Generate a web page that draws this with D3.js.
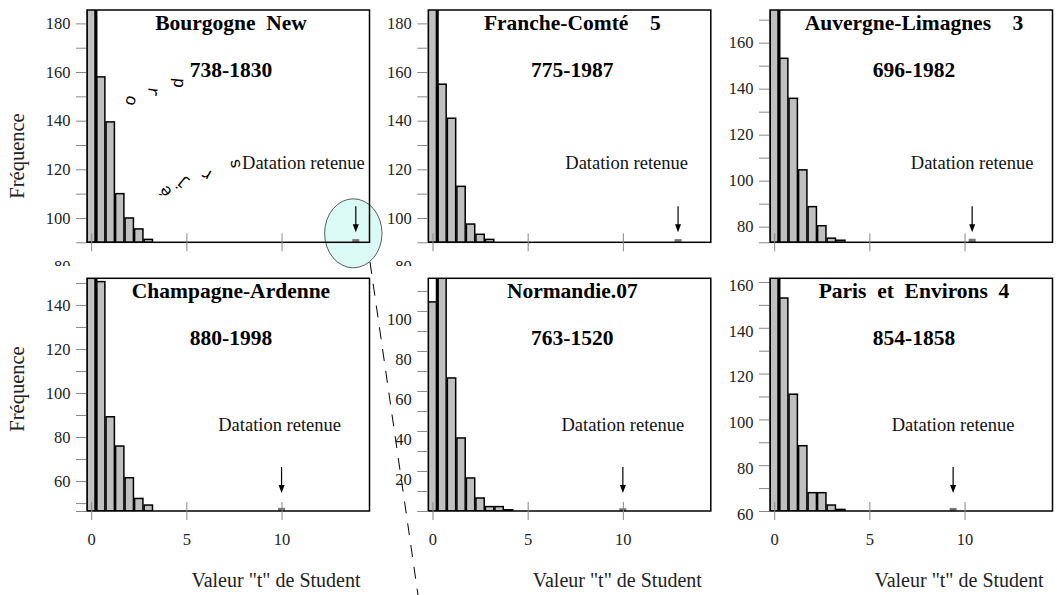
<!DOCTYPE html>
<html>
<head>
<meta charset="utf-8">
<script src="https://cdn.jsdelivr.net/npm/d3@7"></script>
<style>
    body { margin: 0; background: #fff; }
    text { font-family: 'Liberation Serif', 'Times New Roman', serif; }
</style>
</head>
<body>
<svg id="chart" width="1057" height="595"></svg>
<script>
// one histogram per region
var regions = ['Bourgogne  New', 'Franche-Comté    5', 'Auvergne-Limagnes    3',
    'Champagne-Ardenne', 'Normandie.07', 'Paris  et  Environs  4']
var periods = ['738-1830', '775-1987', '696-1982', '880-1998', '763-1520', '854-1858']

// bins of width 0.5 on the t of Student
var binCenters = [0, 0.5, 1, 1.5, 2, 2.5, 3, 3.5, 4]

var freqBourgogne = [200, 158, 139.5, 110, 100, 95.5, 91.2]
var freqFrancheComte = [200, 155, 141, 113, 97.5, 93.3, 91.2]
var freqAuvergne = [200, 153.2, 135.8, 104.7, 88.7, 80.4, 75, 74.1]
var freqChampagne = [200, 150.6, 89.2, 75.9, 61.5, 52.1, 49.1]
var freqNormandie = [104.5, 130, 66.5, 36.5, 16.5, 6.5, 2.2, 2.2, 0.6]
var freqParis = [200, 153, 111, 88.5, 68, 68, 62.6, 60.7]
var frequencies = [freqBourgogne, freqFrancheComte, freqAuvergne, freqChampagne, freqNormandie, freqParis]

// "Datation retenue": t value of the retained dating and its bar
var retainedT = [13.9, 12.9, 10.4, 10, 10, 9.4]
var retainedFreq = [90.9, 90.9, 74.3, 47.4, 0.9, 60.9]
var noteT = [11.15, 10.2, 10.4, 9.9, 10, 9.4]

// the y axes of the original all start somewhere different
var yDomains = [[90, 185.5], [90, 185.5], [73.2, 174.2], [46.4, 152.1], [0, 116.3], [60, 161.6]]
var yLabels = [
    [80, 100, 120, 140, 160, 180],
    [80, 100, 120, 140, 160, 180],
    [80, 100, 120, 140, 160],
    [60, 80, 100, 120, 140],
    [20, 40, 60, 80, 100],
    [60, 80, 100, 120, 140, 160]
]
var labelShift = [0, 0, 0, 0, 8, 3]
var xTicks = [0, 5, 10]
var xDomain = [-0.22, 14.62]

var colLeft = [87, 428.3, 770]
var rowTop = [10, 278.3]
var rowBottom = [242.3, 511]
var panelWidth = 282.5
var serif = "'Liberation Serif', 'Times New Roman', serif"

var svg = d3.select('#chart')

// the highlighted corner and its dashed pointer
svg.append('ellipse')
    .attr('cx', 353.3)
    .attr('cy', 233.3)
    .attr('rx', 28.7)
    .attr('ry', 34.5)
    .attr('fill', '#dcfaf5')
    .attr('stroke', '#333')
    .attr('stroke-width', 0.8)

regions.forEach(function(name, i) {
    var col = i % 3
    var row = Math.floor(i / 3)
    var left = colLeft[col]
    var right = left + panelWidth
    var top = rowTop[row]
    var bottom = rowBottom[row]

    var x = d3.scaleLinear()
        .domain(xDomain)
        .range([left, right])

    var y = d3.scaleLinear()
        .domain(yDomains[i])
        .range([bottom, top])

    var g = svg.append('g')
        .attr('class', 'panel')

    g.append('clipPath')
        .attr('id', 'clip' + i)
        .append('rect')
        .attr('x', left)
        .attr('y', top)
        .attr('width', panelWidth)
        .attr('height', bottom - top)

    var plot = g.append('g')
        .attr('clip-path', 'url(#clip' + i + ')')

    var bins = frequencies[i].map(function(v, k) {
        return { t: binCenters[k], v: v }
    })

    plot.selectAll('rect.bar')
        .data(bins)
        .enter().append('rect')
        .attr('class', 'bar')
        .attr('x', function(d) { return x(d.t - 0.25) + 0.6 })
        .attr('width', function(d) { return x(d.t + 0.25) - x(d.t - 0.25) - 1.2 })
        .attr('y', function(d) { return y(d.v) })
        .attr('height', function(d) { return bottom - y(d.v) })
        .attr('fill', '#c0c0c0')
        .attr('stroke', '#000')
        .attr('stroke-width', 1.5)

    // dark edge between the first two bins
    plot.append('line')
        .attr('x1', x(0.25))
        .attr('x2', x(0.25))
        .attr('y1', top)
        .attr('y2', bottom)
        .attr('stroke', '#000')
        .attr('stroke-width', 3)

    // retained dating
    plot.append('rect')
        .attr('x', x(retainedT[i]) - 3.5)
        .attr('width', 7)
        .attr('y', y(retainedFreq[i]) - 1)
        .attr('height', bottom - y(retainedFreq[i]) + 1)
        .attr('fill', '#777')

    var tip = row === 0 ? bottom - 10 : bottom - 18
    var ax = x(retainedT[i])
    g.append('line')
        .attr('x1', ax)
        .attr('x2', ax)
        .attr('y1', tip - 26)
        .attr('y2', tip - 6)
        .attr('stroke', '#000')
        .attr('stroke-width', 1.2)
    g.append('path')
        .attr('d', 'M' + (ax - 3) + ',' + (tip - 8) + 'L' + (ax + 3) + ',' + (tip - 8) + 'L' + ax + ',' + tip + 'Z')
        .attr('fill', '#000')

    g.append('text')
        .attr('x', x(noteT[i]))
        .attr('y', top + (row === 0 ? 159 : 153))
        .attr('text-anchor', 'middle')
        .attr('font-size', 18.5)
        .attr('fill', '#111')
        .text('Datation retenue')

    // frame
    g.append('rect')
        .attr('x', left)
        .attr('y', top)
        .attr('width', panelWidth)
        .attr('height', bottom - top)
        .attr('fill', 'none')
        .attr('stroke', '#000')
        .attr('stroke-width', 1.5)

    // y axis: tick marks every 10, labels every 20
    var dom = yDomains[i]
    var minor = [dom[0]].concat(d3.range(Math.ceil(dom[0] / 10) * 10, dom[1], 10))
    minor = minor.filter(function(v, k) { return minor.indexOf(v) === k })

    g.append('g')
        .attr('transform', 'translate(' + (left - 1) + ',0)')
        .call(d3.axisLeft(y).tickValues(minor).tickSize(10).tickFormat(''))
        .call(function(a) {
            a.select('.domain').remove()
            a.selectAll('line').attr('stroke', '#888')
        })

    var labels = g.append('g')
        .attr('transform', 'translate(' + left + ',0)')
        .call(d3.axisLeft(y).tickValues(yLabels[i]).tickSize(0).tickPadding(16.5).tickFormat(d3.format('d')))
        .attr('font-family', serif)
        .attr('font-size', 16.5)
        .call(function(a) {
            a.select('.domain').remove()
            a.selectAll('text')
                .style('font-family', serif)
                .attr('fill', '#222')
                .attr('transform', 'translate(0,' + labelShift[i] + ')')
        })
    if (row === 0) {
        // the lowest label is cut by the lower row in the original
        g.append('clipPath')
            .attr('id', 'lab' + i)
            .append('rect')
            .attr('x', -70)
            .attr('y', 0)
            .attr('width', 70)
            .attr('height', 266)
        labels.attr('clip-path', 'url(#lab' + i + ')')
    }

    // x axis: ticks crossing the base line
    var xAxis = d3.axisBottom(x)
        .tickValues(xTicks)
        .tickSizeInner(18)
        .tickSizeOuter(0)
        .tickPadding(13.3)
    if (row === 0) xAxis.tickFormat('')

    g.append('g')
        .attr('transform', 'translate(0,' + (bottom - 9) + ')')
        .call(xAxis)
        .attr('font-family', serif)
        .attr('font-size', 16.5)
        .call(function(a) {
            a.select('.domain').remove()
            a.selectAll('line').attr('stroke', '#888')
            a.selectAll('text').style('font-family', serif).attr('fill', '#222')
        })

    g.append('text')
        .attr('x', left + 144)
        .attr('y', top + 20)
        .attr('text-anchor', 'middle')
        .attr('font-size', 21.5)
        .attr('font-weight', 'bold')
        .style('white-space', 'pre')
        .text(name)

    g.append('text')
        .attr('x', left + 144)
        .attr('y', top + 66.5)
        .attr('text-anchor', 'middle')
        .attr('font-size', 21.5)
        .attr('font-weight', 'bold')
        .text(periods[i])

    if (col === 0) {
        g.append('text')
            .attr('transform', 'translate(24,' + (row === 0 ? 156 : 389) + ') rotate(-90)')
            .attr('text-anchor', 'middle')
            .attr('font-size', 20.5)
            .attr('fill', '#222')
            .text('Fréquence')
    }
    if (row === 1) {
        g.append('text')
            .attr('x', left + 189)
            .attr('y', 587)
            .attr('text-anchor', 'middle')
            .attr('font-size', 20)
            .attr('fill', '#222')
            .text('Valeur "t" de Student')
    }
})

// stray letters laid on an arc in the first panel
var arcLetters = [
    { c: 'o', x: 132, y: 101, r: 110 },
    { c: 'r', x: 154, y: 92, r: 100 },
    { c: 'p', x: 180, y: 83, r: 95 },
    { c: 'é', x: 165, y: 192, r: -130 },
    { c: 'j', x: 181, y: 184, r: -140 },
    { c: 'r', x: 206, y: 175, r: -150 },
    { c: 's', x: 234, y: 164, r: -100 }
]
svg.append('g')
    .selectAll('text')
    .data(arcLetters)
    .enter().append('text')
    .attr('transform', function(d) { return 'translate(' + d.x + ',' + d.y + ') rotate(' + d.r + ')' })
    .attr('text-anchor', 'middle')
    .attr('dy', '0.35em')
    .style('font-family', "'Liberation Mono', monospace")
    .attr('font-size', 17)
    .text(function(d) { return d.c })

svg.append('line')
    .attr('x1', 370)
    .attr('y1', 262)
    .attr('x2', 418)
    .attr('y2', 595)
    .attr('stroke', '#000')
    .attr('stroke-width', 1)
    .attr('stroke-dasharray', '12,10')
</script>
</body>
</html>
